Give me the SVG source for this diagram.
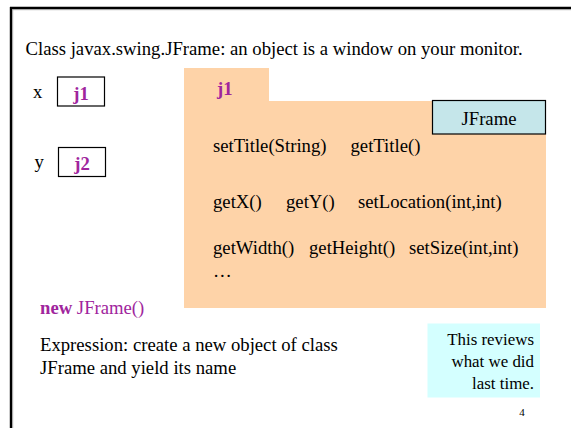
<svg xmlns="http://www.w3.org/2000/svg" width="571" height="428" viewBox="0 0 571 428">
  <style>
    text { font-family: "Liberation Serif", "Times New Roman", serif; fill: #000; }
    .t18 { font-size: 18.7px; }
    .t16 { font-size: 16.9px; }
    .name { font-size: 18.7px; font-weight: bold; fill: #A0259D; }
    .purple { fill: #A0259D; }
    .var { fill: #fff; stroke: #000; stroke-width: 1.2; }
  </style>

  <rect x="0" y="0" width="571" height="428" fill="#fff"/>

  <!-- slide frame -->
  <g id="frame">
    <line x1="11" y1="7" x2="11" y2="428" stroke="#000" stroke-width="2.4"/>
    <line x1="10" y1="8" x2="571" y2="8" stroke="#000" stroke-width="2.4"/>
    <line x1="12.7" y1="9.7" x2="12.7" y2="428" stroke="#999" stroke-width="0.8"/>
    <line x1="12.5" y1="9.7" x2="571" y2="9.7" stroke="#999" stroke-width="0.8"/>
  </g>

  <text id="title" class="t18" x="25.5" y="54.5">Class javax.swing.JFrame: an object is a window on your monitor.</text>

  <!-- variable x -->
  <g id="var-x">
    <text class="t18" x="33" y="98">x</text>
    <rect class="var" x="57.5" y="77" width="47" height="29"/>
    <text class="name" x="81" y="99.5" text-anchor="middle">j1</text>
  </g>

  <!-- variable y -->
  <g id="var-y">
    <text class="t18" x="34.5" y="168">y</text>
    <rect class="var" x="58.5" y="147.5" width="47" height="29"/>
    <text class="name" x="82" y="170" text-anchor="middle">j2</text>
  </g>

  <!-- object j1 (folder shape) -->
  <g id="object-j1">
    <path d="M184,68 H269 V101 H546 V308 H184 Z" fill="#FED3A8"/>
    <text class="name" x="217" y="95">j1</text>
    <rect x="432.5" y="100.5" width="113" height="33.5" fill="#C5E6EA" stroke="#000" stroke-width="1.2"/>
    <text class="t18" x="489" y="124.5" text-anchor="middle">JFrame</text>
    <text class="t18" x="213" y="152">setTitle(String)</text>
    <text class="t18" x="350.5" y="152">getTitle()</text>
    <text class="t18" x="213" y="207.5">getX()</text>
    <text class="t18" x="286" y="207.5">getY()</text>
    <text class="t18" x="358" y="207.5">setLocation(int,int)</text>
    <text class="t18" x="213" y="254">getWidth()</text>
    <text class="t18" x="309" y="254">getHeight()</text>
    <text class="t18" x="409" y="254">setSize(int,int)</text>
    <text class="t18" x="213" y="277">…</text>
  </g>

  <g id="expression">
    <text class="t18" x="40" y="313.5"><tspan class="purple" font-weight="bold">new</tspan><tspan class="purple"> JFrame()</tspan></text>
    <text class="t18" x="40" y="351">Expression: create a new object of class</text>
    <text class="t18" x="40" y="374">JFrame and yield its name</text>
  </g>

  <g id="note">
    <rect x="427.5" y="323.5" width="112.5" height="74" fill="#D4FFFF"/>
    <text class="t16" x="534" y="344.5" text-anchor="end">This reviews</text>
    <text class="t16" x="534" y="367" text-anchor="end">what we did</text>
    <text class="t16" x="534" y="389" text-anchor="end">last time.</text>
  </g>

  <text id="page" x="522" y="416" font-size="11" text-anchor="middle">4</text>
</svg>
